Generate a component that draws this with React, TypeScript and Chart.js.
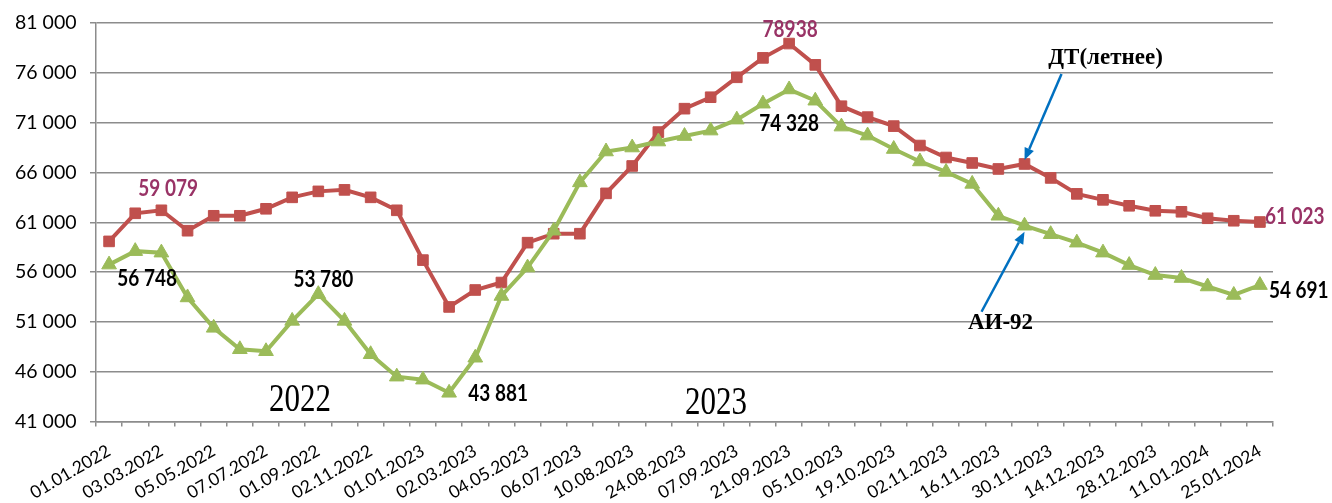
import React, { useEffect, useRef } from 'react';
import { Chart, registerables } from 'chart.js';

Chart.register(...registerables);

const categories = [
  '01.01.2022', '01.02.2022', '03.03.2022', '04.04.2022', '05.05.2022', '06.06.2022',
  '07.07.2022', '01.08.2022', '01.09.2022', '03.10.2022', '02.11.2022', '01.12.2022',
  '01.01.2023', '01.02.2023', '02.03.2023', '03.04.2023', '04.05.2023', '01.06.2023',
  '06.07.2023', '27.07.2023', '10.08.2023', '17.08.2023', '24.08.2023', '31.08.2023',
  '07.09.2023', '14.09.2023', '21.09.2023', '28.09.2023', '05.10.2023', '12.10.2023',
  '19.10.2023', '26.10.2023', '02.11.2023', '09.11.2023', '16.11.2023', '23.11.2023',
  '30.11.2023', '07.12.2023', '14.12.2023', '21.12.2023', '28.12.2023', '04.01.2024',
  '11.01.2024', '18.01.2024', '25.01.2024',
];

// ДТ (летнее)
const dtSummer = [
  59079, 61900, 62200, 60150, 61650, 61650, 62350, 63500, 64100, 64250, 63500, 62200,
  57200, 52500, 54200, 54950, 58950, 59850, 59850, 63900, 66650, 70050, 72400, 73550,
  75550, 77500, 78938, 76800, 72650, 71550, 70650, 68700, 67500, 66950, 66350, 66850,
  65450, 63850, 63250, 62650, 62150, 62050, 61400, 61150, 61023,
];

// АИ-92
const ai92 = [
  56748, 58100, 57950, 53450, 50400, 48250, 48050, 51100, 53780, 51100, 47750, 45500,
  45200, 43881, 47400, 53600, 56450, 60150, 65000, 68100, 68500, 69100, 69650, 70200,
  71300, 72900, 74328, 73200, 70600, 69700, 68350, 67100, 66050, 64850, 61650, 60650,
  59800, 58950, 57950, 56700, 55700, 55400, 54550, 53700, 54691,
];

const yMin = 41000;
const yMax = 81000;
const yStep = 5000;

const seriesNames = ['АИ-92', 'ДТ(летнее)'];
const yearLabels = ['2022', '2023'];

// value labels: which series / point, and the text shown
const valueLabels = [
  { s: 1, i: 0, text: '59 079', color: '#993366', dx: 59, dy: -45, align: 'center' },
  { s: 0, i: 0, text: '56 748', color: '#000000', dx: 38, dy: 21, align: 'center' },
  { s: 0, i: 8, text: '53 780', color: '#000000', dx: 5, dy: -7, align: 'center' },
  { s: 0, i: 13, text: '43 881', color: '#000000', dx: 49, dy: 8, align: 'center' },
  { s: 1, i: 26, text: '78938', color: '#993366', dx: 1, dy: -7, align: 'center' },
  { s: 0, i: 26, text: '74 328', color: '#000000', dx: 0, dy: 42, align: 'center' },
  { s: 1, i: 44, text: '61 023', color: '#993366', dx: 5, dy: 2, align: 'left' },
  { s: 0, i: 44, text: '54 691', color: '#000000', dx: 9, dy: 13, align: 'left' },
];

const fmt = (v: number) => String(v).replace(/\B(?=(\d{3})+(?!\d))/g, ' ');

const SANS = "Lato, 'Noto Sans', sans-serif";
const SERIF = "'Liberation Serif', 'DejaVu Serif', serif";
const BLUE = '#0070C0';

function drawArrow(ctx: CanvasRenderingContext2D, x1: number, y1: number, x2: number, y2: number) {
  const ang = Math.atan2(y2 - y1, x2 - x1);
  const head = 12;
  const half = 5;
  const bx = x2 - head * Math.cos(ang);
  const by = y2 - head * Math.sin(ang);
  ctx.save();
  ctx.strokeStyle = BLUE;
  ctx.fillStyle = BLUE;
  ctx.lineWidth = 2.5;
  ctx.beginPath();
  ctx.moveTo(x1, y1);
  ctx.lineTo(bx, by);
  ctx.stroke();
  ctx.beginPath();
  ctx.moveTo(x2, y2);
  ctx.lineTo(bx + half * Math.sin(ang), by - half * Math.cos(ang));
  ctx.lineTo(bx - half * Math.sin(ang), by + half * Math.cos(ang));
  ctx.closePath();
  ctx.fill();
  ctx.restore();
}

function drawText(
  ctx: CanvasRenderingContext2D, text: string, x: number, y: number,
  font: string, color: string, align: CanvasTextAlign, sy: number,
) {
  ctx.save();
  ctx.translate(x, y);
  ctx.scale(1, sy);
  ctx.font = font;
  ctx.fillStyle = color;
  ctx.textAlign = align;
  ctx.textBaseline = 'alphabetic';
  ctx.fillText(text, 0, 0);
  ctx.restore();
}

const annotationPlugin = {
  id: 'annotations',
  afterDatasetsDraw(chart: any) {
    const ctx: CanvasRenderingContext2D = chart.ctx;
    const metas = [chart.getDatasetMeta(0), chart.getDatasetMeta(1)];
    const pt = (s: number, i: number) => metas[s].data[i];

    valueLabels.forEach((l) => {
      const p = pt(l.s, l.i);
      drawText(ctx, l.text, p.x + l.dx, p.y + l.dy, `bold 19px ${SANS}`, l.color, l.align as CanvasTextAlign, 1.2);
    });

    // series captions with arrows
    const dp = pt(1, 35);
    drawText(ctx, seriesNames[1], dp.x + 81, dp.y - 100, `bold 23px ${SERIF}`, '#000', 'center', 1);
    drawArrow(ctx, dp.x + 37, dp.y - 90, dp.x, dp.y - 4);
    const ap = pt(0, 35);
    drawText(ctx, seriesNames[0], ap.x - 24, ap.y + 103, `bold 23px ${SERIF}`, '#000', 'center', 1);
    drawArrow(ctx, ap.x - 43, ap.y + 86, ap.x, ap.y + 6);

    // year captions
    const xs = chart.scales.x;
    drawText(ctx, yearLabels[0], xs.getPixelForValue(7.3), 411, `31px ${SERIF}`, '#000', 'center', 1.3);
    drawText(ctx, yearLabels[1], xs.getPixelForValue(23.2), 414, `31px ${SERIF}`, '#000', 'center', 1.3);
  },
};

export default function App() {
  const ref = useRef<HTMLCanvasElement | null>(null);

  useEffect(() => {
    if (!ref.current) return;
    const chart = new Chart(ref.current, {
      type: 'line',
      data: {
        labels: categories,
        datasets: [
          {
            label: seriesNames[0],
            data: ai92,
            borderColor: '#9BBB59',
            backgroundColor: '#9BBB59',
            borderWidth: 4,
            pointStyle: 'triangle',
            pointRadius: 8.5,
            pointBorderWidth: 1,
            pointBackgroundColor: '#9BBB59',
            pointBorderColor: '#9BBB59',
            tension: 0,
          },
          {
            label: seriesNames[1],
            data: dtSummer,
            borderColor: '#C0504D',
            backgroundColor: '#C0504D',
            borderWidth: 4,
            pointStyle: 'rect',
            pointRadius: 7.5,
            pointBorderWidth: 1,
            pointBackgroundColor: '#C0504D',
            pointBorderColor: '#C0504D',
            tension: 0,
          },
        ],
      },
      options: {
        responsive: false,
        animation: false,
        layout: { padding: { top: 23, right: 59, left: 15, bottom: 0 } },
        plugins: {
          legend: { display: false },
          tooltip: { enabled: false },
        },
        scales: {
          x: {
            offset: true,
            grid: {
              offset: true,
              drawOnChartArea: false,
              drawTicks: true,
              tickLength: 5,
              color: '#8c8c8c',
              lineWidth: 1.5,
            },
            border: { display: true, color: '#8c8c8c', width: 1.5 },
            ticks: {
              autoSkip: false,
              minRotation: 30,
              maxRotation: 30,
              padding: 14,
              color: '#000',
              font: { family: SANS, size: 17.5 },
              callback: (_v: any, i: number) => (i % 2 === 0 ? categories[i] : ''),
            },
            afterFit: (s: any) => { s.height = 81.5; },
          },
          y: {
            min: yMin,
            max: yMax,
            grid: {
              color: '#8c8c8c',
              lineWidth: 1.5,
              drawTicks: true,
              tickLength: 6,
            },
            border: { display: true, color: '#8c8c8c', width: 1.5 },
            ticks: {
              stepSize: yStep,
              padding: 0,
              crossAlign: 'far',
              color: '#000',
              font: { family: SANS, size: 19.5 },
              callback: (v: any) => fmt(Number(v)),
            },
            afterFit: (s: any) => { s.width = 81; },
          },
        },
      },
      plugins: [annotationPlugin],
    });
    return () => chart.destroy();
  }, []);

  return (
    <div style={{ position: 'fixed', left: 0, top: 0, width: 1332, height: 503, background: '#fff' }}>
      <canvas ref={ref} width={1332} height={503} style={{ display: 'block' }} />
    </div>
  );
}
